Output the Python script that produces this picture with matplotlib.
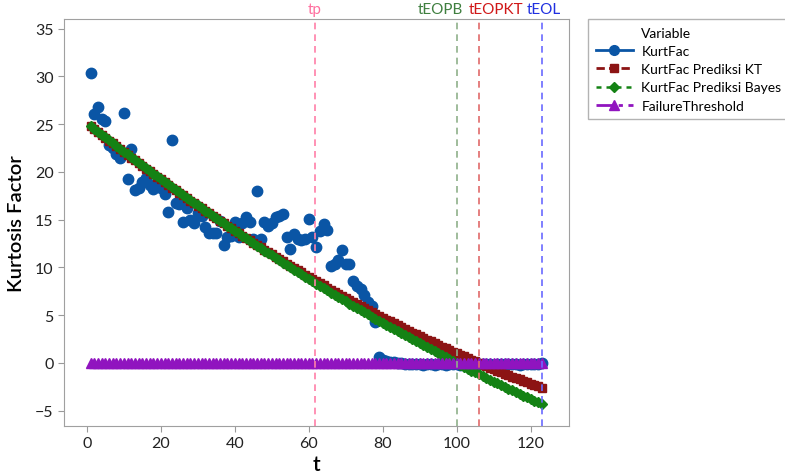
import numpy as np
import matplotlib.pyplot as plt
from matplotlib.lines import Line2D

plt.rcParams['font.family'] = ['Lato', 'DejaVu Sans']

# observed kurtosis factor, t = 1..123
kurtfac = [30.4, 26.1, 26.8, 25.5, 25.3, 22.8, 22.5, 21.9, 21.5, 26.2,
           19.2, 22.4, 18.1, 18.3, 18.9, 19.4, 18.6, 18.2, 18.5, 18.3,
           17.7, 15.8, 23.3, 16.7, 16.6, 14.8, 16.2, 15.0, 14.6, 15.7,
           15.4, 14.2, 13.6, 13.6, 13.6, 14.9, 12.3, 13.2, 13.3, 14.7,
           13.2, 14.6, 15.3, 14.8, 13.0, 18.0, 13.0, 14.7, 14.3, 14.6,
           15.3, 15.4, 15.6, 13.2, 11.9, 13.5, 13.0, 12.9, 13.0, 15.1,
           13.2, 12.1, 13.8, 14.5, 13.9, 10.1, 10.3, 10.8, 11.8, 10.4,
           10.3, 8.6, 8.1, 7.7, 7.1, 6.4, 6.0, 4.3, 0.6, 0.3,
           0.2, 0.1, 0.1, 0.0, 0.0, -0.1, -0.1, -0.1, -0.1, -0.1,
           -0.2, -0.1, -0.1, -0.2, -0.1, -0.1, -0.2, -0.1, -0.1, -0.1,
           -0.2, -0.1, -0.1, -0.1, -0.2, -0.1, -0.1, -0.1, -0.1, -0.2,
           -0.1, -0.1, -0.1, -0.1, -0.1, -0.1, -0.2, -0.1, -0.1, -0.1,
           -0.1, -0.1, 0.0]

kt_pred = [24.80, 24.49, 24.19, 23.88, 23.58, 23.28, 22.98, 22.68, 22.38, 22.08,
           21.79, 21.50, 21.20, 20.91, 20.62, 20.34, 20.05, 19.76, 19.48, 19.20,
           18.92, 18.64, 18.36, 18.08, 17.80, 17.53, 17.26, 16.98, 16.71, 16.45,
           16.18, 15.91, 15.65, 15.38, 15.12, 14.86, 14.60, 14.34, 14.09, 13.83,
           13.58, 13.32, 13.07, 12.82, 12.57, 12.33, 12.08, 11.84, 11.59, 11.35,
           11.11, 10.87, 10.64, 10.40, 10.16, 9.93, 9.70, 9.47, 9.24, 9.01,
           8.78, 8.56, 8.33, 8.11, 7.89, 7.67, 7.45, 7.23, 7.02, 6.81,
           6.59, 6.38, 6.17, 5.96, 5.75, 5.55, 5.34, 5.14, 4.94, 4.74,
           4.54, 4.34, 4.14, 3.95, 3.75, 3.56, 3.37, 3.18, 2.99, 2.80,
           2.62, 2.43, 2.25, 2.07, 1.89, 1.71, 1.53, 1.36, 1.18, 1.01,
           0.84, 0.67, 0.50, 0.33, 0.16, 0.00, -0.17, -0.33, -0.49, -0.65,
           -0.81, -0.97, -1.12, -1.28, -1.43, -1.58, -1.73, -1.88, -2.03, -2.17,
           -2.32, -2.46, -2.60]

bayes_pred = [24.80, 24.50, 24.20, 23.90, 23.60, 23.30, 23.01, 22.71, 22.42, 22.12,
              21.83, 21.54, 21.25, 20.96, 20.67, 20.39, 20.10, 19.82, 19.53, 19.25,
              18.97, 18.69, 18.41, 18.13, 17.85, 17.57, 17.30, 17.02, 16.75, 16.48,
              16.21, 15.94, 15.67, 15.40, 15.13, 14.87, 14.60, 14.34, 14.07, 13.81,
              13.55, 13.29, 13.03, 12.77, 12.52, 12.26, 12.01, 11.75, 11.50, 11.25,
              11.00, 10.75, 10.50, 10.25, 10.01, 9.76, 9.52, 9.27, 9.03, 8.79,
              8.55, 8.31, 8.07, 7.83, 7.60, 7.36, 7.13, 6.90, 6.67, 6.43,
              6.20, 5.98, 5.75, 5.52, 5.30, 5.07, 4.85, 4.63, 4.40, 4.18,
              3.96, 3.75, 3.53, 3.31, 3.10, 2.88, 2.67, 2.46, 2.25, 2.04,
              1.83, 1.62, 1.41, 1.21, 1.00, 0.80, 0.60, 0.39, 0.19, -0.01,
              -0.21, -0.40, -0.60, -0.80, -0.99, -1.18, -1.38, -1.57, -1.76, -1.95,
              -2.13, -2.32, -2.51, -2.69, -2.88, -3.06, -3.24, -3.42, -3.60, -3.78,
              -3.96, -4.14, -4.31]

t = np.arange(1, len(kt_pred) + 1)
threshold = [0.0] * len(t)

# reference times and where their labels sit
vlines = [61.6, 100, 106, 123]
vlabels = ['tp', 'tEOPB', 'tEOPKT', 'tEOL']
label_x = [61.6, 101.7, 103.2, 123.5]
label_ha = ['center', 'right', 'left', 'center']
vcolors = ['#ff7fa8', '#8fb08a', '#e06a6a', '#6a6aff']
tcolors = ['#ff6f9f', '#3f7f3f', '#d01818', '#2030e0']

c_blue = '#0a55a5'
c_red = '#8c1414'
c_green = '#148214'
c_purple = '#9014bf'

fig = plt.figure(figsize=(7.85, 4.77), dpi=100)
ax = fig.add_axes([0.0815, 0.105, 0.6435, 0.853])

ax.plot(t[:len(kurtfac)], kurtfac, 'o', color=c_blue, ms=7.5, mec=c_blue)
ax.plot(t, kt_pred, 's', color=c_red, ms=5.5, mec=c_red)
ax.plot(t, bayes_pred, 'D', color=c_green, ms=5.5, mec=c_green)
ax.plot(t, threshold, '^', color=c_purple, ms=7, mec=c_purple)

for x, lc in zip(vlines, vcolors):
    ax.axvline(x, color=lc, ls=(0, (4, 3)), lw=1.2)
for x, lab, ha, tc in zip(label_x, vlabels, label_ha, tcolors):
    ax.text(x, 1.008, lab, color=tc, transform=ax.get_xaxis_transform(),
            ha=ha, va='bottom', fontsize=11)

ax.set_xlim(-6.2, 130.4)
ax.set_ylim(-6.6, 36)
ax.set_xticks([0, 20, 40, 60, 80, 100, 120])
ax.set_yticks(np.arange(-5, 36, 5))
ax.tick_params(labelsize=11.5, colors='#222222', length=4)
ax.tick_params(color='#999999')
for s in ax.spines.values():
    s.set_color('#a0a0a0')

ax.set_xlabel('t', fontsize=15, fontweight='semibold', labelpad=3)
ax.set_ylabel('Kurtosis Factor', fontsize=14.5, fontweight='semibold')
ax.yaxis.set_label_coords(-0.078, 0.5)

handles = [
    Line2D([], [], ls='none'),
    Line2D([], [], color=c_blue, marker='o', ms=7, lw=2),
    Line2D([], [], color=c_red, marker='s', ms=5.5, lw=2, ls=(0, (3, 1.5))),
    Line2D([], [], color=c_green, marker='D', ms=5.5, lw=1.8, ls=(0, (2, 2))),
    Line2D([], [], color=c_purple, marker='^', ms=7, lw=2, ls=(0, (6, 2, 1.5, 2))),
]
labels = ['Variable', 'KurtFac', 'KurtFac Prediksi KT',
          'KurtFac Prediksi Bayes', 'FailureThreshold']
leg = fig.legend(handles, labels, loc='upper left',
                 bbox_to_anchor=(0.749, 0.958), fontsize=10,
                 frameon=True, fancybox=False, edgecolor='#a0a0a0',
                 handlelength=2.7, handletextpad=0.6, labelspacing=0.45,
                 borderpad=0.55, borderaxespad=0)
leg.get_frame().set_linewidth(1.0)

fig.savefig('out.png', dpi=100)
